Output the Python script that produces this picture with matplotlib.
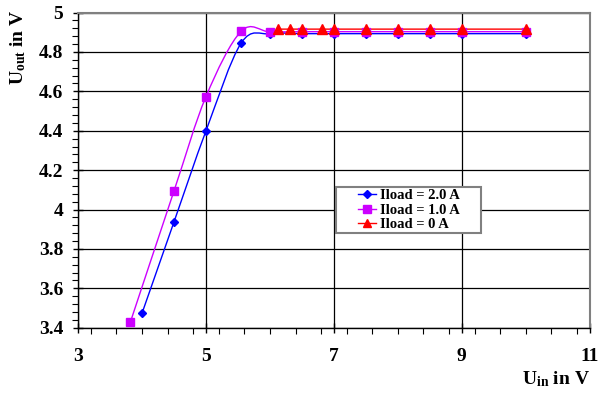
import numpy as np
import matplotlib
matplotlib.use("Agg")
import matplotlib.pyplot as plt
from matplotlib.path import Path
from matplotlib.patches import PathPatch, Rectangle
from matplotlib.lines import Line2D
from matplotlib.ticker import MultipleLocator

# Data
x_2A = [4.0, 4.5, 5.0, 5.55, 6.0, 6.5, 7.0, 7.5, 8.0, 8.5, 9.0, 10.0]
y_2A = [3.473, 3.937, 4.399, 4.845, 4.893, 4.893, 4.893, 4.893, 4.893, 4.893, 4.893, 4.893]
x_1A = [3.82, 4.5, 5.0, 5.55, 6.0, 6.5, 7.0, 7.5, 8.0, 8.5, 9.0, 10.0]
y_1A = [3.43, 4.094, 4.573, 4.905, 4.902, 4.903, 4.903, 4.903, 4.903, 4.903, 4.903, 4.903]
x_0A = [6.13, 6.31, 6.5, 6.81, 7.0, 7.5, 8.0, 8.5, 9.0, 10.0]
y_0A = [4.916, 4.916, 4.916, 4.916, 4.916, 4.916, 4.916, 4.916, 4.916, 4.916]
labels = ["Iload = 2.0 A", "Iload = 1.0 A", "Iload = 0 A"]
colors = ["#0000FF", "#CC00FF", "#FF0000"]
markers = ["D", "s", "^"]
msizes = [4.5, 6, 6.5]
x_ticks = [3, 5, 7, 9, 11]
y_ticks = [3.4, 3.6, 3.8, 4.0, 4.2, 4.4, 4.6, 4.8, 5.0]
y_ticklabels = ['3.4', '3.6', '3.8', '4', '4.2', '4.4', '4.6', '4.8', '5']

def smooth_path(xs, ys):
    xs = np.asarray(xs, float); ys = np.asarray(ys, float)
    n = len(xs)
    verts = [(xs[0], ys[0])]
    codes = [Path.MOVETO]
    for i in range(n - 1):
        p0 = np.array([xs[max(i - 1, 0)], ys[max(i - 1, 0)]])
        p1 = np.array([xs[i], ys[i]])
        p2 = np.array([xs[i + 1], ys[i + 1]])
        p3 = np.array([xs[min(i + 2, n - 1)], ys[min(i + 2, n - 1)]])
        c1 = p1 + (p2 - p0) / 6.0
        c2 = p2 - (p3 - p1) / 6.0
        verts += [tuple(c1), tuple(c2), tuple(p2)]
        codes += [Path.CURVE4] * 3
    return Path(verts, codes)

plt.rcParams['font.family'] = ['Liberation Serif', 'DejaVu Serif']
plt.rcParams['mathtext.fontset'] = 'custom'
plt.rcParams['mathtext.rm'] = 'Liberation Serif'
plt.rcParams['mathtext.bf'] = 'Liberation Serif:bold'
plt.rcParams['mathtext.it'] = 'Liberation Serif:italic'

fig = plt.figure(figsize=(6.0, 3.93), dpi=100)
ax = fig.add_axes([0.13, 0.166, 0.853, 0.802])

series = [(x_2A, y_2A), (x_1A, y_1A), (x_0A, y_0A)]
handles = []
for (xs, ys), c, m, ms, lab in zip(series, colors, markers, msizes, labels):
    ax.add_patch(PathPatch(smooth_path(xs, ys), facecolor='none', edgecolor=c, lw=1.0, zorder=3))
    ax.plot(xs, ys, linestyle='none', marker=m, color=c, markersize=ms, zorder=4)
    handles.append(Line2D([], [], color=c, marker=m, markersize=ms * 0.85, lw=1.0, label=lab))

ax.set_xlim(3, 11)
ax.set_ylim(3.4, 5.0)
ax.xaxis.set_minor_locator(MultipleLocator(0.4))
ax.yaxis.set_minor_locator(MultipleLocator(0.04))
ax.set_yticks(y_ticks)
ax.set_yticklabels(y_ticklabels)
ax.set_xticks(x_ticks)
ax.set_xticklabels([str(v) for v in x_ticks])
ax.grid(True, which='major', color='black', lw=0.9, zorder=1)
ax.tick_params(which='major', direction='inout', length=7, width=1, labelsize=14)
ax.tick_params(axis='y', which='major', pad=7)
ax.tick_params(axis='x', which='major', pad=11)
ax.tick_params(which='minor', direction='out', length=4, width=0.8)
for lab in ax.get_xticklabels() + ax.get_yticklabels():
    lab.set_fontweight('bold')
for side in ['top', 'right']:
    ax.spines[side].set_color('#808080')
    ax.spines[side].set_linewidth(1.5)
for side in ['left', 'bottom']:
    ax.spines[side].set_color('black')
    ax.spines[side].set_linewidth(1.0)

fig.text(0.03, 0.975, r'U$_{\mathbf{out}}$ in V', rotation=90, ha='center', va='top',
         fontsize=14, fontweight='bold')
fig.text(0.983, 0.022, r'U$_{\mathbf{in}}$ in V', ha='right', va='baseline',
         fontsize=14, fontweight='bold')

# legend frame
ax.add_patch(Rectangle((0.505, 0.300), 0.283, 0.146, transform=ax.transAxes,
                       facecolor='white', edgecolor='#808080', lw=1.5, zorder=5))
leg = ax.legend(handles=handles, loc='center', bbox_to_anchor=(0.646, 0.373),
                prop={'weight': 'bold', 'size': 10.5}, frameon=False,
                borderpad=0, labelspacing=0.1, handlelength=1.25, handletextpad=0.25,
                borderaxespad=0)
leg.set_zorder(6)

fig.savefig('out.png', dpi=100)
